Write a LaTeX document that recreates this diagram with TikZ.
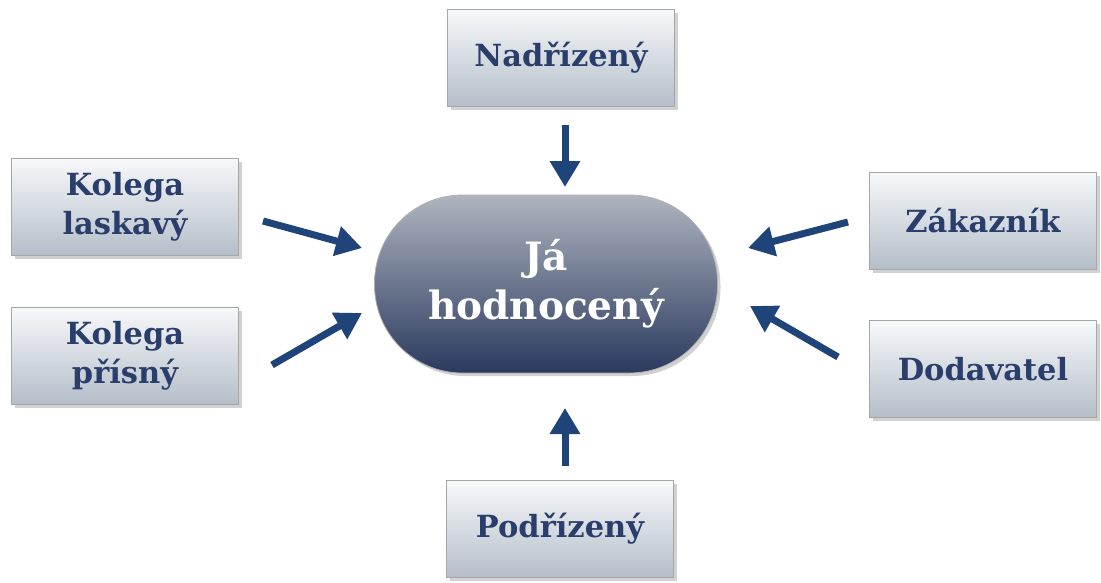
\documentclass[tikz,border=0pt]{standalone}
\usepackage{fontspec}
\setmainfont{DejaVu Serif}
\usetikzlibrary{shadows,arrows.meta}
\definecolor{txtblue}{HTML}{2A3E6C}
\definecolor{arrblue}{HTML}{1E4479}
\definecolor{boxtop}{HTML}{F7F8FA}
\definecolor{boxbot}{HTML}{B4BEC9}
\definecolor{jatop}{HTML}{ADB5BF}
\definecolor{jabot}{HTML}{2B395E}
\tikzset{
  rolebox/.style={draw=gray!70, line width=0.8pt, top color=boxtop, bottom color=boxbot,
    minimum width=227pt, minimum height=97pt, inner sep=0pt, align=center,
    font=\bfseries\fontsize{30.5}{39}\selectfont, text=txtblue,
    drop shadow={shadow xshift=3pt, shadow yshift=-3pt, opacity=0.45, fill=gray!80}},
  jabox/.style={draw=gray!60, line width=0.8pt, top color=jatop, bottom color=jabot,
    minimum width=343pt, minimum height=178pt, rounded corners=88pt, inner sep=0pt,
    align=center, font=\bfseries\fontsize{39}{49}\selectfont, text=white,
    drop shadow={shadow xshift=3pt, shadow yshift=-3pt, opacity=0.45, fill=gray!80}},
  bigarrow/.style={draw=arrblue, line width=7pt, -{Triangle[length=26pt,width=29pt]}}
}
\begin{document}
\begin{tikzpicture}[x=1pt,y=-1pt]
\useasboundingbox (0,0) rectangle (1101,582);
\node[jabox] (ja) at (546,284) {Já\\hodnocený};
\node[rolebox] (nad) at (561,58) {Nadřízený};
\node[rolebox] (pod) at (560,529) {Podřízený};
\node[rolebox] (kl) at (125,207) {Kolega\\laskavý};
\node[rolebox] (kp) at (125,356) {Kolega\\přísný};
\node[rolebox] (zak) at (983,221) {Zákazník};
\node[rolebox] (dod) at (983,369) {Dodavatel};
\coordinate (a1s) at (565,125); \coordinate (a1e) at (565,187);
\coordinate (a2s) at (565,466); \coordinate (a2e) at (565,408);
\coordinate (a3s) at (263,221); \coordinate (a3e) at (362,248);
\coordinate (a4s) at (272,365); \coordinate (a4e) at (362,313);
\coordinate (a5s) at (848,222); \coordinate (a5e) at (748,248);
\coordinate (a6s) at (838,357); \coordinate (a6e) at (750,306);
\draw[bigarrow] (a1s) -- (a1e);
\draw[bigarrow] (a2s) -- (a2e);
\draw[bigarrow] (a3s) -- (a3e);
\draw[bigarrow] (a4s) -- (a4e);
\draw[bigarrow] (a5s) -- (a5e);
\draw[bigarrow] (a6s) -- (a6e);
\end{tikzpicture}
\end{document}
